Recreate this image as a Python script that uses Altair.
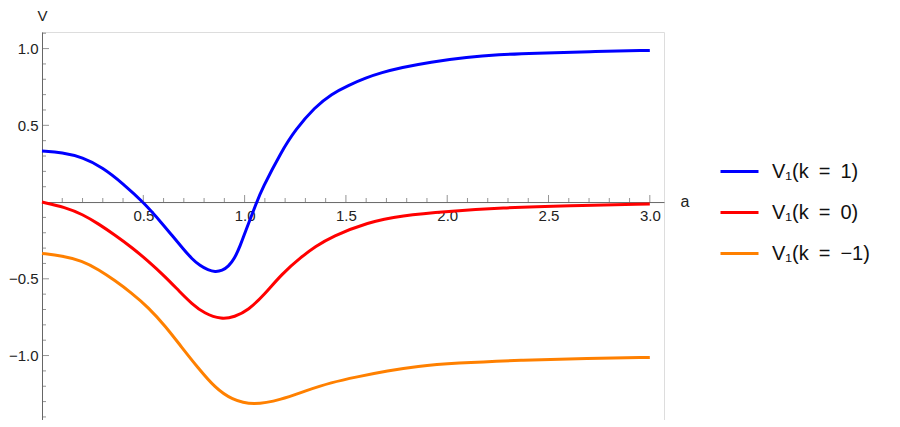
import altair as alt
import pandas as pd

# ---- data ----
a_k1 = [0.0, 0.1, 0.2, 0.3, 0.4, 0.5, 0.6, 0.64, 0.7, 0.74, 0.78, 0.82, 0.854, 0.89, 0.92,
        0.95, 0.98, 1.0, 1.06, 1.084, 1.182, 1.25, 1.346, 1.43, 1.511, 1.6, 1.675, 1.773,
        1.913, 2.102, 2.25, 2.43, 2.7, 3.0]
v_k1 = [0.333, 0.323, 0.292, 0.225, 0.12, 0.0, -0.15, -0.215, -0.31, -0.37, -0.415, -0.443,
        -0.455, -0.447, -0.42, -0.37, -0.28, -0.205, 0.0, 0.08, 0.33, 0.47, 0.618, 0.705,
        0.76, 0.81, 0.843, 0.876, 0.912, 0.945, 0.960, 0.970, 0.980, 0.988]

a_k0 = [0.0, 0.115, 0.2, 0.279, 0.36, 0.443, 0.52, 0.607, 0.68, 0.739, 0.8, 0.887, 0.95,
        1.018, 1.1, 1.182, 1.281, 1.35, 1.43, 1.609, 1.773, 2.003, 2.266, 2.594, 3.0]
v_k0 = [0.0, -0.034, -0.08, -0.142, -0.215, -0.295, -0.38, -0.485, -0.585, -0.662, -0.725,
        -0.766, -0.748, -0.705, -0.60, -0.47, -0.356, -0.29, -0.225, -0.131, -0.088,
        -0.06, -0.038, -0.023, -0.012]

a_km1 = [0.0, 0.1, 0.197, 0.28, 0.361, 0.44, 0.525, 0.61, 0.69, 0.77, 0.854, 0.936, 1.043,
         1.182, 1.3, 1.429, 1.55, 1.708, 1.85, 2.036, 2.364, 2.693, 3.0]
v_km1 = [-0.335, -0.35, -0.382, -0.44, -0.512, -0.59, -0.686, -0.81, -0.947, -1.08, -1.21,
         -1.288, -1.325, -1.287, -1.23, -1.175, -1.14, -1.099, -1.07, -1.049, -1.029,
         -1.019, -1.012]

series_labels = ["V\u2081(k\u2002=\u20021)", "V\u2081(k\u2002=\u20020)",
                 "V\u2081(k\u2002=\u2002\u22121)"]
series_colors = ["#0000FF", "#FF0000", "#FF8000"]

x_major = [0.5, 1.0, 1.5, 2.0, 2.5, 3.0]
x_minor = [round(i * 0.1, 1) for i in range(1, 31) if i % 5 != 0]
y_major = [-1.0, -0.5, 0.5, 1.0]
y_minor = [round(i * 0.1, 1) for i in range(-14, 12) if i % 5 != 0]

# ---- layout ----
X_DOMAIN = [0, 3.07]
Y_DOMAIN = [-1.42, 1.108]
LEFT = 34
W = 622
H = 388
zero_px = H * (Y_DOMAIN[1] - 0) / (Y_DOMAIN[1] - Y_DOMAIN[0])
AX = "#666666"
FONT = "Liberation Sans"
LBL = "#222222"

rows = []
for lab, xs, ys in zip(series_labels, [a_k1, a_k0, a_km1], [v_k1, v_k0, v_km1]):
    for x, y in zip(xs, ys):
        rows.append({"a": x, "V": y, "series": lab})
df = pd.DataFrame(rows)

xscale = alt.Scale(domain=X_DOMAIN, nice=False, zero=False)
yscale = alt.Scale(domain=Y_DOMAIN, nice=False, zero=False)

minus_expr = "replace(format(datum.value, '.1f'), '-', '\u2212')"

lines = alt.Chart(df).mark_line(strokeWidth=3, interpolate="basis").encode(
    x=alt.X("a:Q", scale=xscale, axis=alt.Axis(
        values=x_major, format=".1f", tickSize=0, grid=False,
        domainColor=AX, domainWidth=1, offset=zero_px - H,
        labelFont=FONT, labelFontSize=15, labelColor=LBL, labelPadding=6,
        title="a", titleX=W + 16, titleY=-1, titleAlign="left", titleBaseline="middle",
        titleFont=FONT, titleFontSize=16, titleFontWeight="normal", titleColor=LBL)),
    y=alt.Y("V:Q", scale=yscale, axis=alt.Axis(
        values=y_major, labelExpr=minus_expr, tickSize=0, grid=False,
        domainColor=AX, domainWidth=1,
        labelFont=FONT, labelFontSize=15, labelColor=LBL, labelPadding=4,
        title="V", titleAngle=0, titleX=0, titleY=-24, titleAlign="center",
        titleBaseline="top", titleFont=FONT, titleFontSize=15,
        titleFontWeight="normal", titleColor=LBL)),
    color=alt.Color("series:N", scale=alt.Scale(domain=series_labels, range=series_colors),
                    legend=alt.Legend(orient="none", legendX=719 - 8 - LEFT, legendY=119,
                                      title=None, symbolType="stroke", symbolSize=1444,
                                      symbolStrokeWidth=3, labelFont=FONT,
                                      labelFontSize=20, labelColor="#111111",
                                      labelOffset=12, rowPadding=10)),
)

xt_major = alt.Chart(pd.DataFrame({"t": x_major})).mark_tick(
    orient="vertical", size=7, thickness=1, yOffset=-3.5, color=AX
).encode(x="t:Q", y=alt.datum(0))
xt_minor = alt.Chart(pd.DataFrame({"t": x_minor})).mark_tick(
    orient="vertical", size=4, thickness=1, yOffset=-2, color=AX
).encode(x="t:Q", y=alt.datum(0))
yt_major = alt.Chart(pd.DataFrame({"t": y_major})).mark_tick(
    orient="horizontal", size=7, thickness=1, xOffset=3.5, color=AX
).encode(y="t:Q", x=alt.datum(0))
yt_minor = alt.Chart(pd.DataFrame({"t": y_minor})).mark_tick(
    orient="horizontal", size=4, thickness=1, xOffset=2, color=AX
).encode(y="t:Q", x=alt.datum(0))

chart = alt.layer(lines, xt_major, xt_minor, yt_major, yt_minor).properties(
    width=W, height=H,
    autosize=alt.AutoSizeParams(type="none"),
    padding={"left": LEFT, "top": 24, "right": 884 - LEFT - W, "bottom": 0},
).configure_view(stroke=None).configure(background="white")

chart.save("out.html", embed_options={"renderer": "svg", "actions": False})
